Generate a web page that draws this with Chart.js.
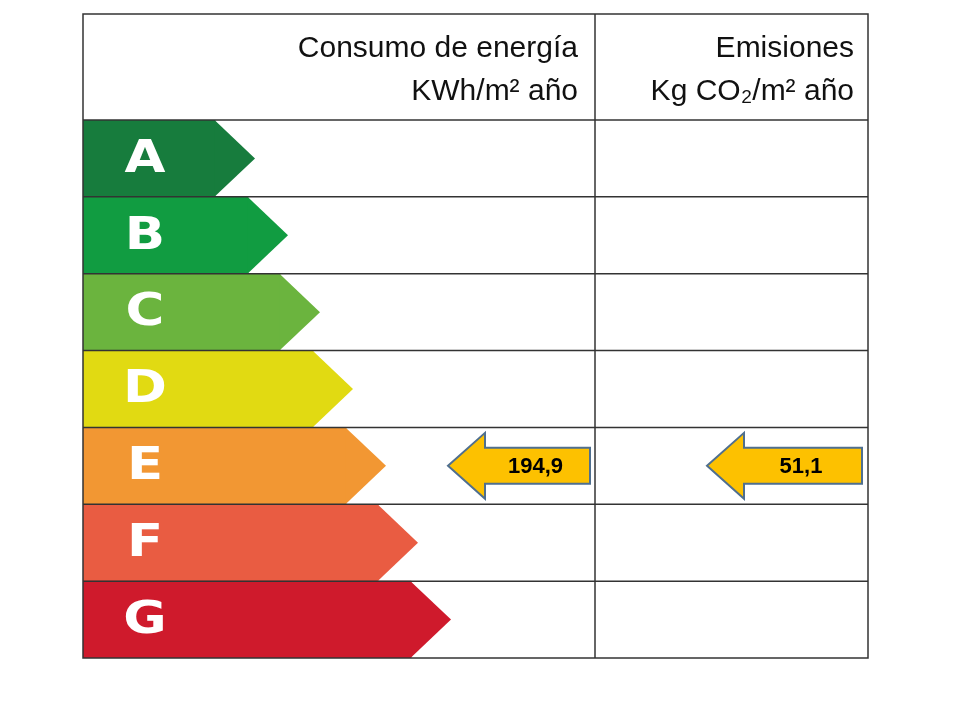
<!DOCTYPE html>
<html lang="es">
<head>
<meta charset="UTF-8">
<title>Calificación energética</title>
<script src="https://cdn.jsdelivr.net/npm/chart.js"></script>
<style>body{margin:0;background:#fff}</style>
</head>
<body>
<canvas id="label" width="960" height="720"></canvas>
<script>
// classes and bar lengths (px-like units along the table width)
const classes = ['A', 'B', 'C', 'D', 'E', 'F', 'G'];
const barLengths = [132, 165, 197, 230, 263, 295, 328];
const barColors = ['#177c3d', '#119c41', '#6bb43e', '#e1da12', '#f29733', '#e95c42', '#cf1a2c'];
const consumo = { cls: 'E', value: '194,9' };
const emisiones = { cls: 'E', value: '51,1' };
const colSplit = 512;   // x value of the column divider
const tableMax = 785;

const labelPlugin = {
  id: 'label',
  afterDatasetsDraw(chart) {
    const ctx = chart.ctx, x = chart.scales.x, y = chart.scales.y;
    const a = chart.chartArea;
    const meta = chart.getDatasetMeta(0);
    const headerTop = 14;

    // arrow tips on class bars + letters
    meta.data.forEach((bar, i) => {
      const h = bar.height, top = bar.y - h / 2;
      ctx.fillStyle = barColors[i];
      ctx.beginPath();
      ctx.moveTo(bar.x - 0.5, top);
      ctx.lineTo(bar.x + 40, bar.y);
      ctx.lineTo(bar.x - 0.5, top + h);
      ctx.closePath();
      ctx.fill();
      ctx.save();
      ctx.fillStyle = '#fff';
      ctx.font = 'bold 46px "DejaVu Sans"';
      ctx.textAlign = 'center';
      ctx.textBaseline = 'middle';
      ctx.translate(a.left + 62, bar.y + 2);
      ctx.scale(1.15, 0.95);
      ctx.fillText(classes[i], 0, 0);
      ctx.restore();
    });

    // grid
    ctx.strokeStyle = '#333';
    ctx.lineWidth = 1.5;
    const step = (a.bottom - a.top) / classes.length;
    for (let i = 0; i < classes.length; i++) {
      const yy = a.top + i * step;
      ctx.beginPath(); ctx.moveTo(a.left, yy); ctx.lineTo(a.right, yy); ctx.stroke();
    }
    ctx.strokeRect(a.left, headerTop, a.right - a.left, a.bottom - headerTop);
    const xs = x.getPixelForValue(colSplit);
    ctx.beginPath(); ctx.moveTo(xs, headerTop); ctx.lineTo(xs, a.bottom); ctx.stroke();

    // header text
    ctx.fillStyle = '#111';
    ctx.font = '30px "Liberation Sans", Arial, sans-serif';
    ctx.textAlign = 'right';
    ctx.textBaseline = 'alphabetic';
    ctx.fillText('Consumo de energía', xs - 17, 57);
    ctx.fillText('KWh/m² año', xs - 17, 100);
    ctx.fillText('Emisiones', a.right - 14, 57);
    ctx.fillText('Kg CO₂/m² año', a.right - 14, 100);

    // indicator arrows
    function indicator(item, x0, x1) {
      const cy = y.getPixelForValue(classes.indexOf(item.cls));
      const l = x.getPixelForValue(x0), r = x.getPixelForValue(x1);
      const head = 37, bh = 18, hh = 33;
      ctx.beginPath();
      ctx.moveTo(l, cy);
      ctx.lineTo(l + head, cy - hh);
      ctx.lineTo(l + head, cy - bh);
      ctx.lineTo(r, cy - bh);
      ctx.lineTo(r, cy + bh);
      ctx.lineTo(l + head, cy + bh);
      ctx.lineTo(l + head, cy + hh);
      ctx.closePath();
      ctx.fillStyle = '#fdc100';
      ctx.fill();
      ctx.strokeStyle = '#4f6f8f';
      ctx.lineWidth = 2;
      ctx.stroke();
      ctx.fillStyle = '#000';
      ctx.font = 'bold 22px "Liberation Sans"';
      ctx.textAlign = 'center';
      ctx.textBaseline = 'middle';
      ctx.fillText(item.value, (l + head + r) / 2 - 2, cy + 1);
    }
    indicator(consumo, 365, 507);
    indicator(emisiones, 624, 779);
  }
};

new Chart(document.getElementById('label'), {
  type: 'bar',
  data: {
    labels: classes,
    datasets: [{
      data: barLengths,
      backgroundColor: barColors,
      borderWidth: 0,
      barPercentage: 1,
      categoryPercentage: 1
    }]
  },
  options: {
    indexAxis: 'y',
    responsive: false,
    animation: false,
    layout: { padding: { left: 83, right: 92, top: 120, bottom: 62 } },
    plugins: { legend: { display: false }, tooltip: { enabled: false } },
    scales: {
      x: { display: false, min: 0, max: tableMax },
      y: { display: false }
    }
  },
  plugins: [labelPlugin]
});
</script>
</body>
</html>
